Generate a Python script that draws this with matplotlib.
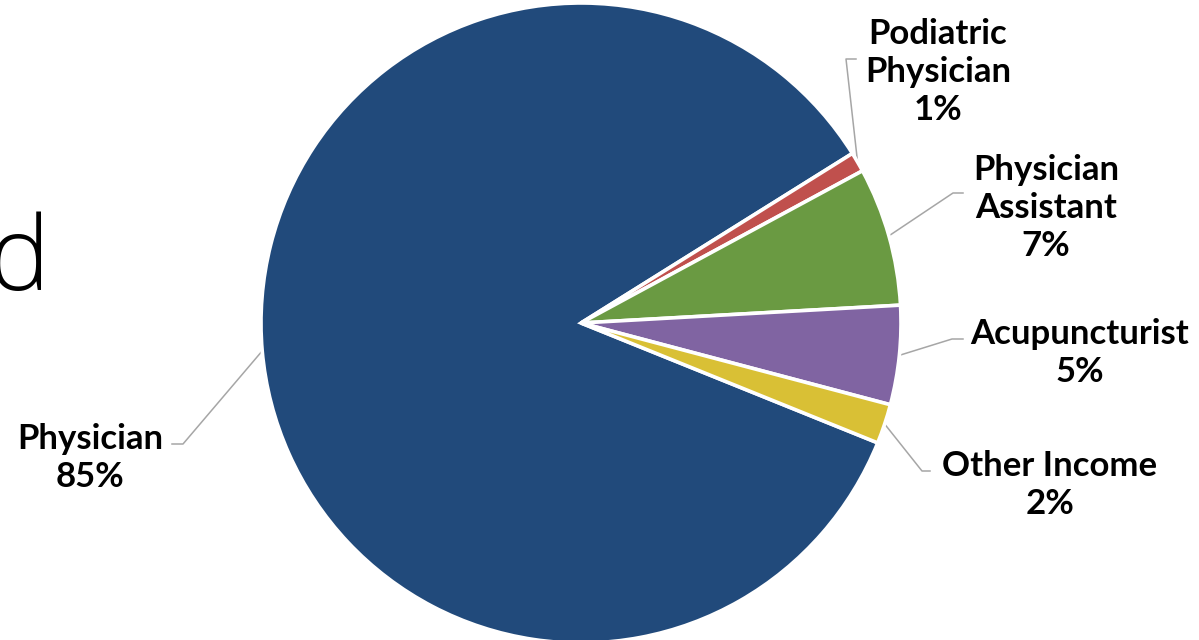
import numpy as np
import matplotlib
matplotlib.use("Agg")
import matplotlib.pyplot as plt

# Revenue share by provider type
categories = ["Physician", "Podiatric\nPhysician", "Physician\nAssistant", "Acupuncturist", "Other Income"]
shares = [85, 1, 7, 5, 2]
colors = ["#214A7B", "#C0504D", "#6A9A42", "#8064A2", "#D9C035"]

W, H = 1199, 640
cx, cy, r = 581, 323, 320  # pie centre and radius in pixels (from top-left)

fig = plt.figure(figsize=(W / 100, H / 100), dpi=100)
ax = fig.add_axes([(cx - r) / W, (H - cy - r) / H, 2 * r / W, 2 * r / H])

wedges, _ = ax.pie(shares, colors=colors, startangle=-22, counterclock=False,
                   radius=1.0,
                   wedgeprops=dict(edgecolor="white", linewidth=2.6))
ax.set_xlim(-1, 1)
ax.set_ylim(-1, 1)
ax.set_aspect("equal")
ax.axis("off")


def px(x, y):
    """pixel position (from top-left) -> data coords of the pie axes"""
    return (x - cx) / r, (cy - y) / r


# label block centres and leader elbows (pixels)
label_pos = [(90, 458), (938, 72), (1046, 208), (1080, 353), (1050, 485)]
elbows = [((183, 444), (172, 444)),
          ((846, 59), (856, 59)),
          ((953, 193), (963, 193)),
          ((952, 339), (963, 339)),
          ((922, 471), (930, 471))]

label_font = dict(family=["Lato", "DejaVu Sans"], fontweight="bold", fontsize=25, color="black")

for w, cat, val, (lx, ly), (e1, e2) in zip(wedges, categories, shares, label_pos, elbows):
    mid = np.deg2rad((w.theta1 + w.theta2) / 2)
    x0, y0 = np.cos(mid), np.sin(mid)
    x1, y1 = px(*e1)
    x2, y2 = px(*e2)
    ax.plot([x0, x1, x2], [y0, y1, y2], color="#A6A6A6", lw=1.1, clip_on=False, zorder=0)
    tx, ty = px(lx, ly)
    ax.text(tx, ty, f"{cat}\n{val}%", ha="center", va="center", linespacing=1.25,
            clip_on=False, **label_font)

# fragment of the slide title running in from the left edge
fig.text(50 / W, 1 - 290 / H, "d", ha="right", va="baseline", fontsize=74,
         family=["Open Sans", "DejaVu Sans"], fontweight="light", color="black")

fig.savefig("out.png", dpi=100)
